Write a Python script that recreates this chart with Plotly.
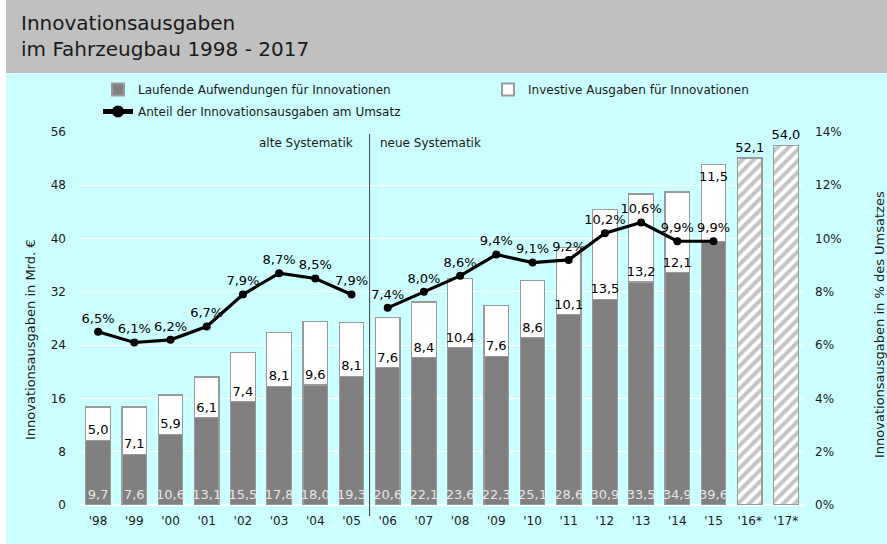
import plotly.graph_objects as go

years = ["'98", "'99", "'00", "'01", "'02", "'03", "'04", "'05", "'06", "'07",
         "'08", "'09", "'10", "'11", "'12", "'13", "'14", "'15", "'16*", "'17*"]
laufende = [9.7, 7.6, 10.6, 13.1, 15.5, 17.8, 18.0, 19.3, 20.6, 22.1,
            23.6, 22.3, 25.1, 28.6, 30.9, 33.5, 34.9, 39.6]
investive = [5.0, 7.1, 5.9, 6.1, 7.4, 8.1, 9.6, 8.1, 7.6, 8.4,
             10.4, 7.6, 8.6, 10.1, 13.5, 13.2, 12.1, 11.5]
prognose_years = ["'16*", "'17*"]
prognose = [52.1, 54.0]
anteil_alt = [6.5, 6.1, 6.2, 6.7, 7.9, 8.7, 8.5, 7.9]
anteil_neu = [7.4, 8.0, 8.6, 9.4, 9.1, 9.2, 10.2, 10.6, 9.9, 9.9]

FONT = "DejaVu Sans, Verdana, sans-serif"
def de(v, pct=False):
    s = f"{v:.1f}".replace(".", ",")
    return s + "%" if pct else s

W, H = 887, 544
L, R, T, B = 80, 83, 132, 39
pw, ph = W - L - R, H - T - B
def px(x): return (x - L) / pw
def py(y): return (H - B - y) / ph

fig = go.Figure()
outline = dict(color="#9A9A9A", width=1.3)
BW = 0.68
# last investive label sits at the top of its segment (as in the original)
inv_text = [de(v) for v in investive]
inv_text[-1] = ""
fig.add_trace(go.Bar(
    x=years[:18], y=laufende, name="Laufende Aufwendungen für Innovationen",
    legend="legend", legendgroup="a",
    marker=dict(color="#808080", line=outline),
    text=[de(v) for v in laufende], textposition="inside", insidetextanchor="start",
    textangle=0, textfont=dict(color="#E6E6E6", size=13, family=FONT),
    constraintext="none", width=BW))
fig.add_trace(go.Bar(
    x=years[:18], y=investive, name="Investive Ausgaben für Innovationen",
    legend="legend2",
    marker=dict(color="#FFFFFF", line=outline),
    text=inv_text, textposition="inside", insidetextanchor="start",
    textangle=0, textfont=dict(color="#000000", size=13, family=FONT),
    constraintext="none", width=BW))
fig.add_trace(go.Bar(
    x=prognose_years, y=prognose, showlegend=False,
    marker=dict(color="#FFFFFF", line=outline,
                pattern=dict(shape="/", fgcolor="#8C8C8C", bgcolor="#FFFFFF",
                             size=8, solidity=0.5)),
    text=[de(v) for v in prognose], textposition="outside", textangle=0,
    textfont=dict(color="#000000", size=13, family=FONT), constraintext="none",
    cliponaxis=False, width=BW))
line_style = dict(color="#000000", width=3.2)
fig.add_trace(go.Scatter(
    x=years[:8], y=[v / 100 for v in anteil_alt], yaxis="y2",
    name="Anteil der Innovationsausgaben am Umsatz", legend="legend", legendgroup="b",
    mode="lines+markers+text",
    line=line_style, marker=dict(size=8, color="#000000"),
    text=[de(v, True) for v in anteil_alt], textposition="top center",
    textfont=dict(size=13, family=FONT, color="#000000"), cliponaxis=False))
fig.add_trace(go.Scatter(
    x=years[8:18], y=[v / 100 for v in anteil_neu], yaxis="y2", showlegend=False,
    mode="lines+markers+text", line=line_style, marker=dict(size=8, color="#000000"),
    text=[de(v, True) for v in anteil_neu], textposition="top center",
    textfont=dict(size=13, family=FONT, color="#000000"), cliponaxis=False))

shapes = [
    dict(type="rect", xref="paper", yref="paper", x0=px(6), x1=px(W + 2), y0=py(73), y1=py(-2),
         fillcolor="#C0C0C0", line=dict(width=0), layer="below"),
    dict(type="rect", xref="paper", yref="paper", x0=px(-2), x1=px(6), y0=py(H + 2), y1=py(-2),
         fillcolor="#FFFFFF", line=dict(width=0), layer="below"),
    dict(type="line", xref="x", yref="paper", x0=7.5, x1=7.5, y0=py(516), y1=py(134),
         line=dict(color="#404040", width=1)),
]
annotations = [
    dict(text="Innovationsausgaben<br>im Fahrzeugbau 1998 - 2017", xref="paper", yref="paper",
         x=px(19), y=py(9), xanchor="left", yanchor="top", align="left", showarrow=False,
         font=dict(size=20, family=FONT, color="#1A1A1A")),
    dict(text="alte Systematik", xref="x", yref="paper", x=7.5, xshift=-15, y=py(143),
         xanchor="right", yanchor="middle", showarrow=False,
         font=dict(size=12, family=FONT, color="#1A1A1A")),
    dict(text="neue Systematik", xref="x", yref="paper", x=7.5, xshift=8, y=py(143),
         xanchor="left", yanchor="middle", showarrow=False,
         font=dict(size=12, family=FONT, color="#1A1A1A")),
    dict(text=de(investive[-1]), xref="x", yref="y", x=years[17],
         y=laufende[17] + investive[17], yshift=-2, xanchor="center", yanchor="top",
         showarrow=False, font=dict(size=13, family=FONT, color="#000000")),
    dict(text="Innovationsausgaben in Mrd. €", xref="paper", yref="paper", x=px(30),
         y=py(340), xanchor="center", yanchor="middle", textangle=-90, showarrow=False,
         font=dict(size=13, family=FONT, color="#1A1A1A")),
    dict(text="Innovationsausgaben in % des Umsatzes", xref="paper", yref="paper", x=px(879),
         y=py(325), xanchor="center", yanchor="middle", textangle=-90, showarrow=False,
         font=dict(size=13, family=FONT, color="#1A1A1A")),
]

leg_common = dict(bgcolor="rgba(0,0,0,0)", font=dict(size=12, family=FONT, color="#1A1A1A"),
                  xanchor="left", yanchor="top", itemsizing="constant")
fig.update_layout(
    width=W, height=H, margin=dict(l=L, r=R, t=T, b=B, pad=0),
    paper_bgcolor="#CCFFFF", plot_bgcolor="#CCFFFF",
    barmode="stack",
    font=dict(family=FONT, size=12, color="#1A1A1A"),
    xaxis=dict(categoryorder="array", categoryarray=years, range=[-0.5, 19.5],
               showgrid=False, showline=False, zeroline=False, ticks="",
               tickfont=dict(size=12), ticklabelstandoff=7),
    yaxis=dict(range=[0, 56], dtick=8, showgrid=True, gridcolor="#FFFFFF", gridwidth=1.3,
               zeroline=True, zerolinecolor="#FFFFFF", zerolinewidth=2, showline=False,
               tickfont=dict(size=12), ticklabelstandoff=13),
    yaxis2=dict(range=[0, 0.14], dtick=0.02, tickformat=".0%", overlaying="y", side="right",
                showgrid=False, zeroline=False, showline=False, tickfont=dict(size=12),
                ticklabelstandoff=10),
    legend=dict(orientation="v", x=px(98), y=py(75), tracegroupgap=3, **leg_common),
    legend2=dict(orientation="v", x=px(488), y=py(75), **leg_common),
    shapes=shapes, annotations=annotations, showlegend=True,
)
fig.write_html("out.html")
